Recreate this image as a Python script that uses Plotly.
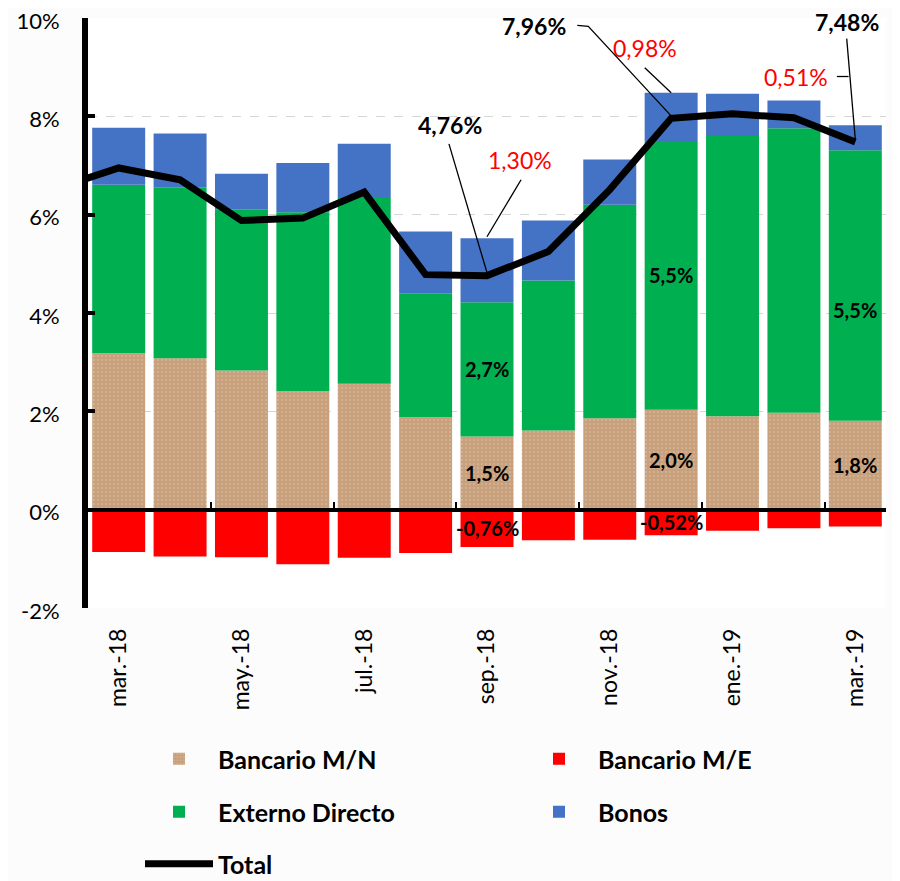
import plotly.graph_objects as go

# ---------------- data ----------------
categories = ["mar.-18", "abr.-18", "may.-18", "jun.-18", "jul.-18", "ago.-18", "sep.-18",
              "oct.-18", "nov.-18", "dic.-18", "ene.-19", "feb.-19", "mar.-19"]
tick_labels = ["mar.-18", "", "may.-18", "", "jul.-18", "", "sep.-18",
               "", "nov.-18", "", "ene.-19", "", "mar.-19"]
bancario_mn = [3.18, 3.08, 2.83, 2.41, 2.56, 1.88, 1.49, 1.61, 1.86, 2.03, 1.90, 1.97, 1.81]
bancario_me = [-0.86, -0.95, -0.97, -1.11, -0.98, -0.88, -0.76, -0.62, -0.61, -0.52, -0.43, -0.38, -0.34]
externo = [3.43, 3.48, 3.28, 3.64, 3.80, 2.52, 2.73, 3.05, 4.34, 5.47, 5.70, 5.79, 5.50]
bonos = [1.16, 1.09, 0.72, 1.00, 1.08, 1.26, 1.30, 1.22, 0.92, 0.98, 0.86, 0.56, 0.51]
total = [6.95, 6.71, 5.88, 5.93, 6.46, 4.78, 4.76, 5.25, 6.51, 7.96, 8.05, 7.97, 7.48]
total_prev = 6.54  # feb.-18, lies just outside the visible range

labelled_bars = [6, 9, 12]       # bars with in-bar labels
me_labelled = [6, 9]             # bars with M/E labels
callout_total = [6, 9, 12]       # total callouts
callout_bonos = [6, 9, 12]       # bonos callouts

xs = list(range(len(categories)))

FONT = "Lato, 'Open Sans', sans-serif"
C_MN = "#C8A07B"
C_ME = "#FF0000"
C_EXT = "#00B050"
C_BON = "#4472C4"

# page body has an 8px default margin: size the figure to fill the remaining window
OFF = 8
W, H = 900 - OFF, 881 - OFF

fig = go.Figure()
fig.add_trace(go.Bar(
    x=xs, y=bancario_mn, name="Bancario M/N", legend="legend",
    marker=dict(color=C_MN, line=dict(width=0),
                pattern=dict(shape=".", fgcolor="rgba(255,255,255,0.85)", bgcolor=C_MN,
                             size=4, solidity=0.12)),
))
fig.add_trace(go.Bar(x=xs, y=bancario_me, name="Bancario M/E", legend="legend2",
                     marker=dict(color=C_ME, line=dict(width=0))))
fig.add_trace(go.Bar(x=xs, y=externo, name="Externo Directo", legend="legend3",
                     marker=dict(color=C_EXT, line=dict(width=0))))
fig.add_trace(go.Bar(x=xs, y=bonos, name="Bonos", legend="legend4",
                     marker=dict(color=C_BON, line=dict(width=0))))
fig.add_trace(go.Scatter(x=[-1] + xs, y=[total_prev] + total, name="Total", legend="legend5",
                         mode="lines", line=dict(color="black", width=7)))
# helper trace for the zero-line axis
fig.add_trace(go.Scatter(x=[0], y=[None], xaxis="x2", yaxis="y", showlegend=False,
                         hoverinfo="skip", mode="lines"))

ann = []
# in-bar labels
for i in labelled_bars:
    mn = bancario_mn[i]
    ex = externo[i]
    ann.append(dict(x=i, y=mn / 2, text=f"{mn:.1f}%".replace(".", ","), showarrow=False,
                    font=dict(family=FONT, size=20, color="black", weight="bold")))
    yshift = -25 if i == 12 else 0
    ann.append(dict(x=i, y=mn + ex / 2, yshift=yshift, text=f"{ex:.1f}%".replace(".", ","),
                    showarrow=False, font=dict(family=FONT, size=20, color="black", weight="bold")))
for i in me_labelled:
    me = bancario_me[i]
    ann.append(dict(x=i, y=me / 2, text=f"{me:.2f}%".replace(".", ","), showarrow=False,
                    font=dict(family=FONT, size=20, color="black", weight="bold")))

# callouts (text position offsets in axis units)
tot_text_pos = {6: (5.40, 7.83), 9: (6.77, 9.83), 12: (11.86, 9.92)}
bon_text_pos = {6: (6.54, 7.12), 9: (8.57, 9.38), 12: (11.03, 8.79)}
for i in callout_total:
    tx, ty = tot_text_pos[i]
    ann.append(dict(x=tx, y=ty, text=f"{total[i]:.2f}%".replace(".", ","), showarrow=False,
                    font=dict(family=FONT, size=23, color="black", weight="bold")))
for i in callout_bonos:
    tx, ty = bon_text_pos[i]
    ann.append(dict(x=tx, y=ty, text=f"{bonos[i]:.2f}%".replace(".", ","), showarrow=False,
                    font=dict(family=FONT, size=23, color="#FF0000")))

# leader lines
def top(i):
    return bancario_mn[i] + externo[i] + bonos[i]

leaders = [
    [(5.38, 7.44), (6.0, total[6] + 0.06)],
    [(6.555, 6.71), (6.0, top(6) + 0.03)],
    [(7.47, 9.85), (7.65, 9.83), (9.0, total[9] + 0.05)],
    [(8.57, 8.99), (9.0, top(9))],
    [(11.86, 9.58), (12.0, total[12] + 0.05)],
    [(11.70, 8.81), (11.89, 8.81)],
]
shapes = []
for pts in leaders:
    path = "M " + " L ".join(f"{x},{y}" for x, y in pts)
    shapes.append(dict(type="path", path=path, xref="x", yref="y",
                       line=dict(color="black", width=1.3)))


def legend_box(px, py):
    # px, py: page position (window pixels)
    return dict(orientation="v", xref="container", yref="container", x=(px - OFF) / W,
                y=1 - (py - OFF - 1) / H, yanchor="middle", xanchor="left",
                font=dict(size=25, family=FONT, weight="bold"), bgcolor="rgba(0,0,0,0)",
                itemwidth=68)


fig.update_layout(
    width=W, height=H,
    margin=dict(l=88 - OFF, r=14, t=18 - OFF, b=273, autoexpand=False),
    paper_bgcolor="#fcfcfc", plot_bgcolor="white",
    barmode="relative", bargap=0.137,
    font=dict(family=FONT, color="black"),
    xaxis=dict(range=[-0.5, 12.5], tickmode="array", tickvals=xs, ticktext=tick_labels,
               tickangle=-90, tickfont=dict(size=23, family=FONT), showgrid=False,
               zeroline=False, showline=False, ticks="", ticklabelstandoff=15,
               automargin=False),
    xaxis2=dict(matches="x", overlaying="x", anchor="free", position=1 / 6, side="bottom",
                showline=True, linecolor="black", linewidth=4, ticks="inside",
                tickvals=[1.5, 3.5, 5.5, 7.5, 9.5, 11.5], ticklen=6, tickwidth=2,
                tickcolor="black", showticklabels=False, showgrid=False, zeroline=False,
                automargin=False),
    yaxis=dict(range=[-2, 10], tickvals=[-2, 0, 2, 4, 6, 8, 10],
               ticktext=["-2%", "0%", "2%", "4%", "6%", "8%", "10%"],
               tickfont=dict(size=22, family=FONT), showgrid=True, gridcolor="#d6d6d6",
               griddash="dash", gridwidth=1, zeroline=False, showline=True,
               linecolor="black", linewidth=6, ticks="inside", ticklen=7, tickwidth=4,
               tickcolor="black", ticklabelstandoff=18, automargin=False,
               ticklabeloverflow="allow", ticklabelshift=3),
    annotations=ann, shapes=shapes,
    legend=legend_box(140, 760),
    legend2=legend_box(520, 760),
    legend3=legend_box(140, 813),
    legend4=legend_box(520, 813),
    legend5=legend_box(140, 865),
    hovermode=False,
)

fig.write_html("out.html")
